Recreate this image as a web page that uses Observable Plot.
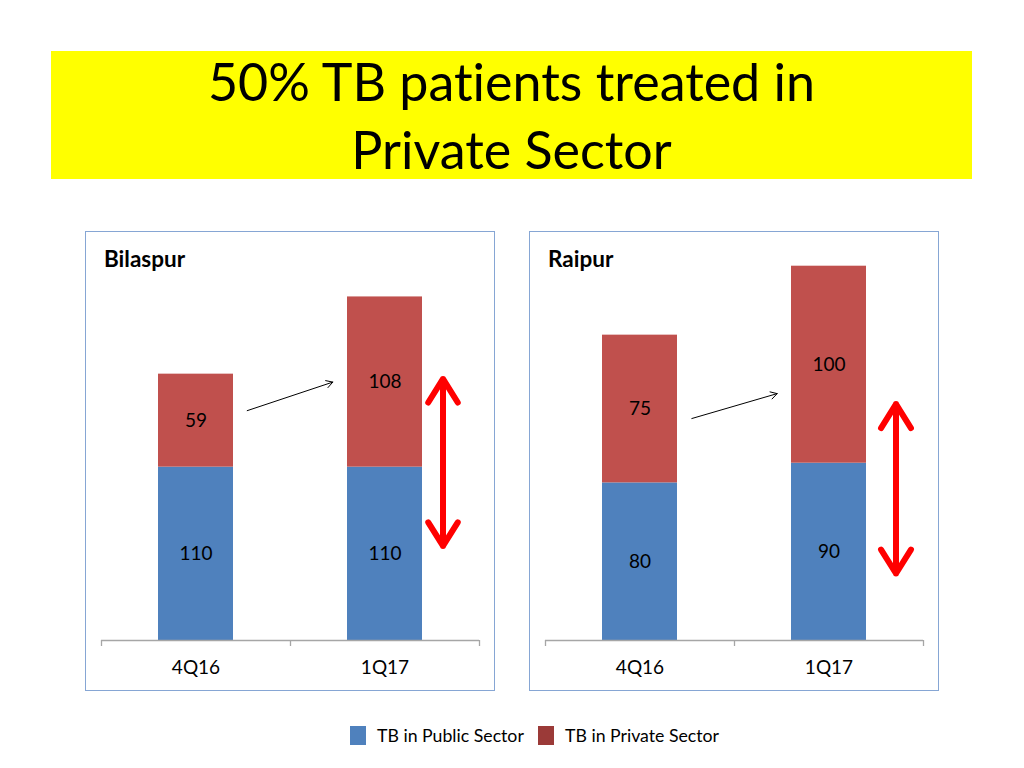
<!DOCTYPE html>
<html>
<head>
<meta charset="utf-8">
<script src="https://cdn.jsdelivr.net/npm/d3@7"></script>
<script src="https://cdn.jsdelivr.net/npm/@observablehq/plot@0.6"></script>
<style>
  html, body { margin: 0; padding: 0; background: #fff; }
  body { width: 1024px; height: 768px; position: relative; overflow: hidden; font-family: Lato, "Open Sans", sans-serif; font-variant-ligatures: none; }
  #title { position: absolute; left: 51px; top: 51px; width: 921px; height: 128px; background: #FFFF00;
           text-align: center; font-size: 52px; line-height: 68px; color: #000; }
  #title div { position: relative; top: -4px; }
  .panel { position: absolute; top: 231px; width: 408px; height: 458px; border: 1px solid #86A6D4; background: #fff; }
  .panel .ptitle { position: absolute; left: 18px; top: 13px; font-size: 22.5px; font-weight: bold; color: #000; z-index: 2; }
  .panel svg { position: absolute; left: 0; top: 0; }
  #legend { position: absolute; top: 724px; left: 0; width: 1024px; height: 22px; font-size: 17.7px; color: #000; }
  .lg { position: absolute; top: 0; display: flex; align-items: center; height: 22px; }
  .sw { width: 16px; height: 19px; margin-right: 11px; }
</style>
</head>
<body>
<div id="title"><div>50% TB patients treated in<br>Private Sector</div></div>
<div class="panel" id="p1" style="left:85px"><div class="ptitle">Bilaspur</div></div>
<div class="panel" id="p2" style="left:529px"><div class="ptitle">Raipur</div></div>
<div id="legend"></div>
<script>
// ---- data ----
const quarters = ["4Q16", "1Q17"];
const seriesNames = ["TB in Public Sector", "TB in Private Sector"];
const bilaspurPublic = [110, 110];
const bilaspurPrivate = [59, 108];
const raipurPublic = [80, 90];
const raipurPrivate = [75, 100];
const bilaspurYMax = 250;
const raipurYMax = 200;
// annotation arrows (data units)
const bilaspurTrend = [{x1: "4Q16", y1: 135, x2: "1Q17", y2: 175}];
const raipurTrend = [{x1: "4Q16", y1: 105, x2: "1Q17", y2: 133}];
const bilaspurSpan = [60, 166]; // red double arrow ends
const raipurSpan = [34, 120];

const colors = {"TB in Public Sector": "#4F81BD", "TB in Private Sector": "#C0504D"};
const legendColors = {"TB in Public Sector": "#4F81BD", "TB in Private Sector": "#9B3A38"};

function makeTable(pub, priv) {
  const rows = [];
  quarters.forEach((q, i) => {
    rows.push({q, series: seriesNames[0], value: pub[i], y1: 0, y2: pub[i]});
    rows.push({q, series: seriesNames[1], value: priv[i], y1: pub[i], y2: pub[i] + priv[i]});
  });
  return rows;
}

function chart(pub, priv, ymax, trend, span, spanDx, trendInsets) {
  const rows = makeTable(pub, priv);
  const mid = (span[0] + span[1]) / 2;
  const spanArrows = [{y1: mid, y2: span[1]}, {y1: mid, y2: span[0]}];
  return Plot.plot({
    width: 408, height: 458,
    marginLeft: 15, marginRight: 15, marginTop: 14, marginBottom: 50,
    style: {fontFamily: "Lato, 'Open Sans', sans-serif", background: "transparent"},
    x: {domain: quarters, padding: 0, axis: null},
    y: {domain: [0, ymax], axis: null},
    marks: [
      Plot.rectY(rows, {x: "q", y1: "y1", y2: "y2", fill: d => colors[d.series], insetLeft: 57, insetRight: 57}),
      Plot.text(rows, {x: "q", y: d => (d.y1 + d.y2) / 2, text: d => String(d.value), fontSize: 19, fill: "#000"}),
      Plot.ruleY([0], {stroke: "#A6A6A6", strokeWidth: 1.3}),
      Plot.ruleX(quarters, {x: d => d, y1: 0, y2: 0, dx: -94.5, stroke: "#A6A6A6", strokeWidth: 1.3, insetBottom: -6}),
      Plot.ruleX(quarters.slice(-1), {x: d => d, y1: 0, y2: 0, dx: 94.5, stroke: "#A6A6A6", strokeWidth: 1.3, insetBottom: -6}),
      Plot.axisX({tickSize: 0, tickPadding: 20, fontSize: 19, label: null}),
      Plot.arrow(trend, {x1: "x1", y1: "y1", x2: "x2", y2: "y2", stroke: "#000", strokeWidth: 1,
        headLength: 11, insetStart: trendInsets[0], insetEnd: trendInsets[1]}),
      Plot.arrow(spanArrows, {x1: () => quarters[1], x2: () => quarters[1], y1: "y1", y2: "y2", dx: spanDx,
        stroke: "#FF0000", strokeWidth: 6, headLength: 24, headAngle: 64, strokeLinecap: "round"})
    ]
  });
}

document.getElementById("p1").appendChild(chart(bilaspurPublic, bilaspurPrivate, bilaspurYMax, bilaspurTrend, bilaspurSpan, 58, [54, 55]));
document.getElementById("p2").appendChild(chart(raipurPublic, raipurPrivate, raipurYMax, raipurTrend, raipurSpan, 67, [54, 54]));

// legend
const legend = document.getElementById("legend");
const legendX = [350, 538];
seriesNames.forEach((s, i) => {
  const item = document.createElement("div");
  item.className = "lg";
  item.style.left = legendX[i] + "px";
  item.innerHTML = `<div class="sw" style="background:${legendColors[s]}"></div><span>${s}</span>`;
  legend.appendChild(item);
});
</script>
</body>
</html>
